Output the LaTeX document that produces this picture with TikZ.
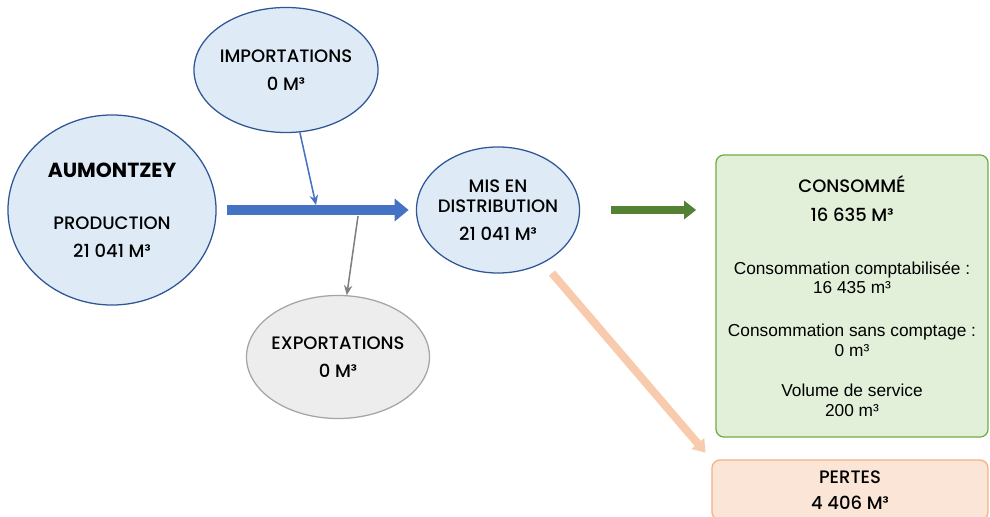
\documentclass[tikz,border=0pt]{standalone}
\usepackage{fontspec}
\setmainfont{Liberation Sans}
\newfontfamily\titre{Poppins Medium}[BoldFont=Poppins Bold]
\usetikzlibrary{shapes.geometric,arrows.meta}
\definecolor{bleuclair}{HTML}{DEEBF7}
\definecolor{bleutrait}{HTML}{2F5597}
\definecolor{bleufleche}{HTML}{4472C4}
\definecolor{grisclair}{HTML}{EDEDED}
\definecolor{gristrait}{HTML}{A5A5A5}
\definecolor{vertclair}{HTML}{E2F0D9}
\definecolor{verttrait}{HTML}{70AD47}
\definecolor{vertfleche}{HTML}{548235}
\definecolor{peche}{HTML}{FBE5D6}
\definecolor{pechetrait}{HTML}{F4B183}
\definecolor{pechefleche}{HTML}{F8CBAD}
\begin{document}
\begin{tikzpicture}[x=0.025cm,y=-0.025cm,line join=round,
	bulle/.style={ellipse,draw=bleutrait,fill=bleuclair,line width=0.9pt,inner xsep=-0.3cm,inner ysep=0pt,align=center,font=\titre\fontsize{12.8}{20}\selectfont},
	boite/.style={rectangle,rounded corners=0.2cm,line width=0.9pt,inner sep=0pt,align=center,font=\fontsize{12.3}{14}\selectfont},
	flechefine/.style={-{Stealth[length=7pt,width=6pt]},line width=1.1pt}]
	\useasboundingbox (0,0) rectangle (990,517);
	\clip (0,0) rectangle (990,517);
	% bulles
	\node[bulle,minimum width=5.2cm,minimum height=4.75cm] (prod) at (112,210) {{\bfseries\fontsize{14.5}{20}\selectfont AUMONTZEY}\\[17pt]PRODUCTION\\21 041 M³};
	\node[bulle,minimum width=4.6cm,minimum height=3.125cm] (imp) at (286,70) {IMPORTATIONS\\0 M³};
	\node[bulle,minimum width=4.075cm,minimum height=3.15cm] (mis) at (498,210) {MIS EN\\[-6pt]DISTRIBUTION\\21 041 M³};
	\node[bulle,draw=gristrait,fill=grisclair,minimum width=4.575cm,minimum height=3.075cm] (exp) at (338,357) {EXPORTATIONS\\0 M³};
	% boites
	\node[boite,draw=verttrait,fill=vertclair,minimum width=6.8cm,minimum height=7.05cm] (cons) at (852,296) {{\titre\fontsize{12.8}{14}\selectfont CONSOMMÉ}\\[6.5pt]{\titre\fontsize{12.8}{14}\selectfont 16 635 M³}\\[23.6pt]Consommation comptabilisée :\\16 435 m³\\[16.5pt]Consommation sans comptage :\\0 m³\\[14.4pt]Volume de service\\200 m³};
	\node[boite,draw=pechetrait,fill=peche,minimum width=6.9cm,minimum height=1.5cm] (pertes) at (850,490) {{\titre\fontsize{12.8}{14}\selectfont PERTES}\\[4.5pt]{\titre\fontsize{12.8}{14}\selectfont 4 406 M³}};
	% fleches
	\coordinate (entree) at (316,205);
	\coordinate (sortie) at (358,216);
	\draw[-{Triangle[length=0.35cm,width=0.55cm]},bleufleche,line width=0.25cm,shorten <=0.25cm,shorten >=0.18cm] (prod) -- (mis);
	\draw[flechefine,bleufleche] (imp) -- (entree);
	\draw[flechefine,gray] (sortie) -- (exp);
	\draw[-{Triangle[length=0.3cm,width=0.45cm]},vertfleche,line width=0.2cm,shorten <=0.78cm,shorten >=0.48cm] (mis) -- (mis -| cons.west);
	\draw[-{Triangle[length=0.3cm,width=0.4cm]},pechefleche,line width=0.2cm,shorten <=0.33cm,shorten >=0.22cm] (mis) -- (pertes.north west);
\end{tikzpicture}
\end{document}
